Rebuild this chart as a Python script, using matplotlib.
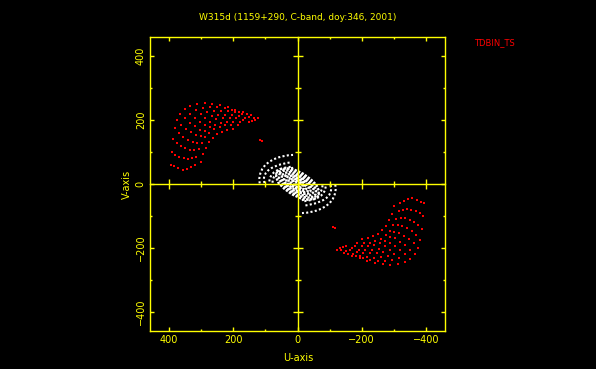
import matplotlib
matplotlib.use("Agg")
import matplotlib.pyplot as plt
from matplotlib.ticker import MultipleLocator

title = "W315d (1159+290, C-band, doy:346, 2001)"
source_label = "TDBIN_TS"
yellow = "#ffff00"

# red tracks (u, v) in the upper-left half; the conjugate (-u, -v) is drawn too
red_u = [
    [396, 392, 387, 382, 376, 366, 352, 334, 313, 290, 266, 242, 218, 194, 170, 146, 124],
    [384, 381, 376, 370, 362, 350, 335, 316, 295, 273, 250, 227, 204, 181, 158, 136],
    [372, 369, 364, 357, 348, 336, 320, 302, 282, 261, 240, 218, 196, 174, 152, 132],
    [358, 355, 350, 342, 332, 320, 305, 288, 268, 247, 226, 205, 184, 163, 142],
    [345, 341, 335, 327, 317, 304, 289, 272, 253, 233, 212, 191, 170, 150],
    [332, 328, 322, 313, 302, 289, 274, 257, 239, 220, 200, 180],
    [320, 315, 308, 299, 288, 275, 260, 243, 225, 206, 187],
    [300, 294, 286, 276, 264, 250, 235, 219, 202],
    [118, 112],
]
red_v = [
    [60, 100, 140, 175, 200, 220, 235, 245, 250, 252, 250, 246, 240, 233, 225, 216, 206],
    [55, 92, 128, 160, 185, 205, 220, 231, 238, 241, 241, 238, 233, 226, 218, 208],
    [50, 85, 118, 148, 172, 192, 207, 218, 225, 229, 230, 228, 224, 218, 210, 200],
    [45, 80, 112, 139, 162, 181, 195, 205, 212, 216, 217, 216, 212, 206, 198],
    [48, 78, 106, 130, 152, 170, 184, 195, 202, 206, 207, 205, 201, 195],
    [52, 80, 106, 129, 149, 165, 177, 186, 191, 194, 195, 193],
    [58, 84, 108, 129, 146, 160, 171, 179, 184, 186, 186],
    [70, 93, 113, 131, 145, 156, 164, 169, 172],
    [137, 134],
]

# white tracks: outer arcs (mirrored) and inner closed rings
white_arc_u = [
    [118, 119, 116, 110, 101, 89, 75, 60, 44, 28, 14],
    [103, 105, 104, 99, 91, 81, 70, 58, 45, 32, 19],
    [88, 86, 81, 74, 65, 55, 44, 32, 20],
    [78, 77, 73, 67, 59, 50, 40, 29, 18, 8],
]
white_arc_v = [
    [2, 18, 33, 47, 59, 69, 77, 83, 87, 90, 91],
    [3, 13, 24, 34, 43, 50, 55, 60, 63, 66, 68],
    [8, 19, 28, 36, 42, 46, 50, 52, 54],
    [4, 14, 23, 31, 38, 43, 47, 49, 50, 51],
]
white_ring_u = [
    [64, 53, 33, 8, -18, -41, -59, -67, -64, -53, -33, -8, 18, 41, 59, 67, 64],
    [56, 46, 29, 7, -16, -36, -51, -58, -56, -46, -29, -7, 16, 36, 51, 58, 56],
    [48, 40, 25, 6, -14, -31, -44, -50, -48, -40, -25, -6, 14, 31, 44, 50, 48],
    [40, 33, 21, 5, -12, -26, -37, -42, -40, -33, -21, -5, 12, 26, 37, 42, 40],
    [34, 28, 17, 4, -10, -22, -31, -35, -34, -28, -17, -4, 10, 22, 31, 35, 34],
    [27, 22, 14, 3, -8, -17, -25, -28, -27, -22, -14, -3, 8, 17, 25, 28, 27],
    [21, 17, 11, 3, -6, -14, -19, -22, -21, -17, -11, -3, 6, 14, 19, 22, 21],
    [16, 13, 8, 2, -4, -10, -14, -16, -16, -13, -8, -2, 4, 10, 14, 16, 16],
    [8, 7, 4, 1, -2, -5, -8, -9, -8, -7, -4, -1, 2, 5, 8, 9, 8],
]
white_ring_v = [
    [38, 47, 49, 44, 32, 15, -3, -22, -38, -47, -49, -44, -32, -15, 3, 22, 38],
    [33, 41, 43, 38, 28, 13, -3, -19, -33, -41, -43, -38, -28, -13, 3, 19, 33],
    [28, 35, 37, 33, 24, 11, -3, -16, -28, -35, -37, -33, -24, -11, 3, 16, 28],
    [24, 30, 31, 27, 20, 10, -2, -14, -24, -30, -31, -27, -20, -10, 2, 14, 24],
    [20, 25, 26, 23, 17, 8, -2, -11, -20, -25, -26, -23, -17, -8, 2, 11, 20],
    [16, 20, 21, 18, 13, 6, -2, -9, -16, -20, -21, -18, -13, -6, 2, 9, 16],
    [13, 16, 16, 14, 11, 5, -1, -7, -13, -16, -16, -14, -11, -5, 1, 7, 13],
    [9, 11, 12, 11, 8, 4, -1, -5, -9, -11, -12, -11, -8, -4, 1, 5, 9],
    [5, 6, 6, 6, 4, 2, 0, -3, -5, -6, -6, -6, -4, -2, 0, 3, 5],
]

fig = plt.figure(figsize=(5.96, 3.69), dpi=100, facecolor="black")
pos = [150 / 596, 38 / 369, 295 / 596, 294 / 369]
ax = fig.add_axes(pos, facecolor="black")

for us, vs in zip(red_u, red_v):
    ax.plot(us, vs, "s", color="red", ms=1.7, mew=0, ls="none")
    ax.plot([-u for u in us], [-v for v in vs], "s", color="red", ms=1.7, mew=0, ls="none")

for us, vs in zip(white_arc_u, white_arc_v):
    ax.plot(us, vs, color="white", lw=1.5, ls=(0, (1, 1.1)))
    ax.plot([-u for u in us], [-v for v in vs], color="white", lw=1.5, ls=(0, (1, 1.1)))
for us, vs in zip(white_ring_u, white_ring_v):
    ax.plot(us, vs, color="white", lw=1.7, ls=(0, (1, 0.6)))

ax.set_xlim(460, -460)
ax.set_ylim(-460, 460)
for a in (ax.xaxis, ax.yaxis):
    a.set_major_locator(MultipleLocator(200))
    a.set_minor_locator(MultipleLocator(100))
for s in ax.spines.values():
    s.set_color(yellow)
    s.set_linewidth(1.0)
ax.tick_params(which="both", direction="in", color=yellow, labelcolor=yellow,
               top=True, right=True, width=1.0, labelsize=7, pad=3)
ax.tick_params(which="major", length=3)
ax.tick_params(which="minor", length=1.7)
for lab in ax.get_yticklabels():
    lab.set_rotation(90)
    lab.set_va("center")

# centre cross with ticks
ax2 = fig.add_axes(pos, facecolor="none")
ax2.set_xlim(460, -460)
ax2.set_ylim(-460, 460)
for a in (ax2.xaxis, ax2.yaxis):
    a.set_major_locator(MultipleLocator(200))
    a.set_minor_locator(MultipleLocator(100))
ax2.spines["top"].set_visible(False)
ax2.spines["right"].set_visible(False)
ax2.spines["left"].set_position(("data", 0))
ax2.spines["bottom"].set_position(("data", 0))
for k in ("left", "bottom"):
    ax2.spines[k].set_color(yellow)
    ax2.spines[k].set_linewidth(1.0)
ax2.tick_params(which="both", direction="inout", color=yellow, width=1.0,
                labelleft=False, labelbottom=False)
ax2.tick_params(which="major", length=7)
ax2.tick_params(which="minor", length=4)

fig.text(298 / 596, 1 - 17 / 369, title, color=yellow, fontsize=6.5, ha="center", va="center")
fig.text(494 / 596, 1 - 43 / 369, source_label, color="red", fontsize=6, ha="center", va="center")
fig.text(298 / 596, 1 - 358 / 369, "U-axis", color=yellow, fontsize=7, ha="center", va="center")
fig.text(127 / 596, 1 - 184 / 369, "V-axis", color=yellow, fontsize=7, ha="center", va="center",
         rotation=90)

fig.savefig("out.png", dpi=100, facecolor="black")
